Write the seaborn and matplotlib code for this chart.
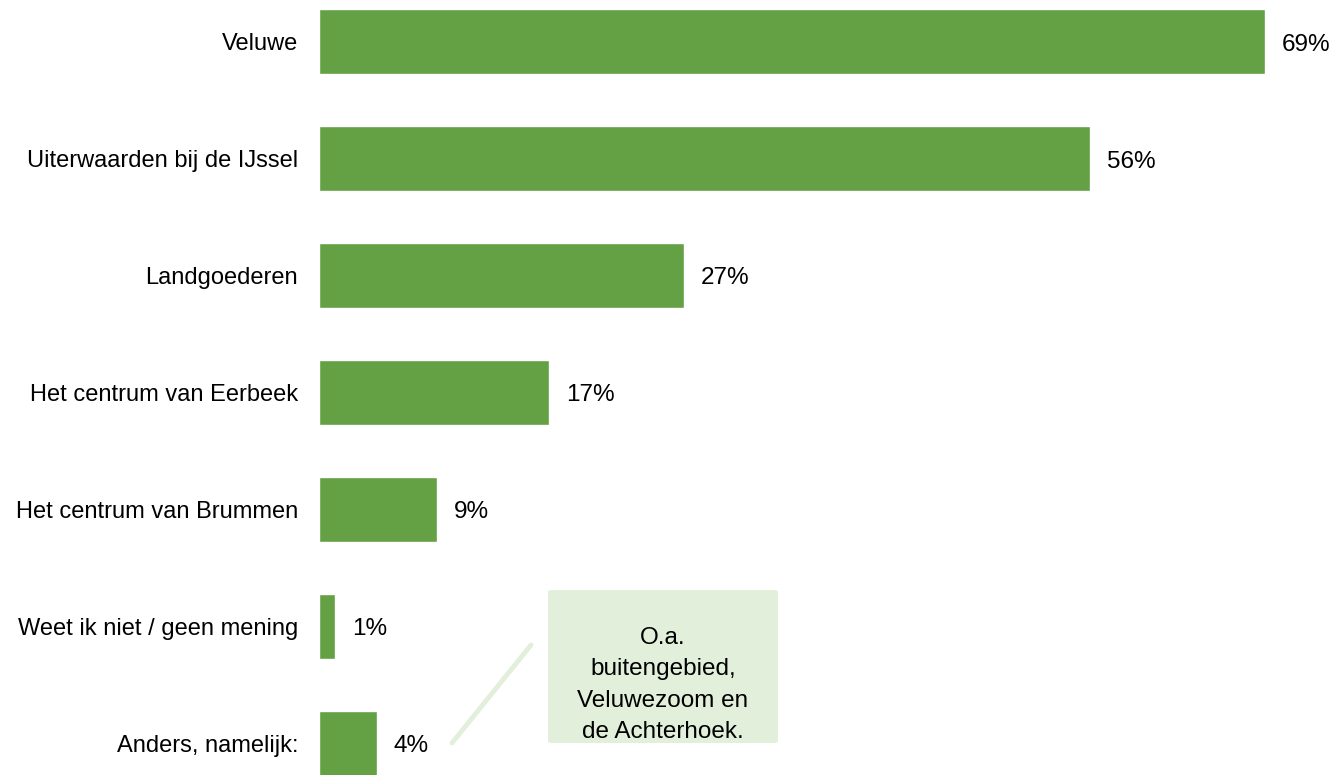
import pandas as pd
import seaborn as sns
import matplotlib.pyplot as plt
from matplotlib.patches import FancyBboxPatch

## Data
categories = ['Veluwe', 'Uiterwaarden bij de IJssel', 'Landgoederen', 'Het centrum van Eerbeek',
              'Het centrum van Brummen', 'Weet ik niet / geen mening', 'Anders, namelijk:']
values = [69.0, 56.2, 26.6, 16.8, 8.6, 1.2, 4.2]
value_labels = ['69%', '56%', '27%', '17%', '9%', '1%', '4%']
note_text = 'O.a.\nbuitengebied,\nVeluwezoom en\nde Achterhoek.'

df = pd.DataFrame({'cat': categories, 'val': values})

## Plotting
sns.set_style('white')
plt.rcParams['font.family'] = ['Liberation Sans', 'DejaVu Sans']
plt.rcParams['text.color'] = 'black'
plt.rcParams['ytick.color'] = 'black'
green = '#64A044'

fig = plt.figure(figsize=(13.37, 7.75), dpi=100)
ax = fig.add_axes([319/1337, 0, 1 - 319/1337, 1])
sns.barplot(data=df, y='cat', x='val', orient='h', color=green, width=0.556, ax=ax,
            saturation=1, order=categories)
ax.set_xlim(0, 74.25)
ax.set_ylim(6.27, -0.355)
ax.set_xlabel('')
ax.set_ylabel('')
ax.set_xticks([])
sns.despine(ax=ax, left=True, bottom=True)
ax.tick_params(axis='y', length=0, pad=15, labelsize=17, labelcolor='black')

for i, (v, lab) in enumerate(zip(values, value_labels)):
    ax.annotate(lab, xy=(v, i), xytext=(17, -3), textcoords='offset pixels',
                va='center', ha='left', fontsize=17.5, color='black')

# callout box for "Anders"
box = FancyBboxPatch((548/1337, 1 - 743/775), 230/1337, 153/775,
                     boxstyle='round,pad=0,rounding_size=0.003', transform=fig.transFigure,
                     facecolor='#E2EFDA', edgecolor='none')
fig.patches.append(box)
fig.text(663/1337, 1 - 685/775, note_text, ha='center', va='center', fontsize=17.5,
         linespacing=1.54, color='black')
fig.add_artist(plt.Line2D([452/1337, 531/1337], [1 - 743/775, 1 - 645/775],
                          color='#E2EFDA', lw=3.5, transform=fig.transFigure))

plt.savefig('out.png', dpi=100)
plt.close()
